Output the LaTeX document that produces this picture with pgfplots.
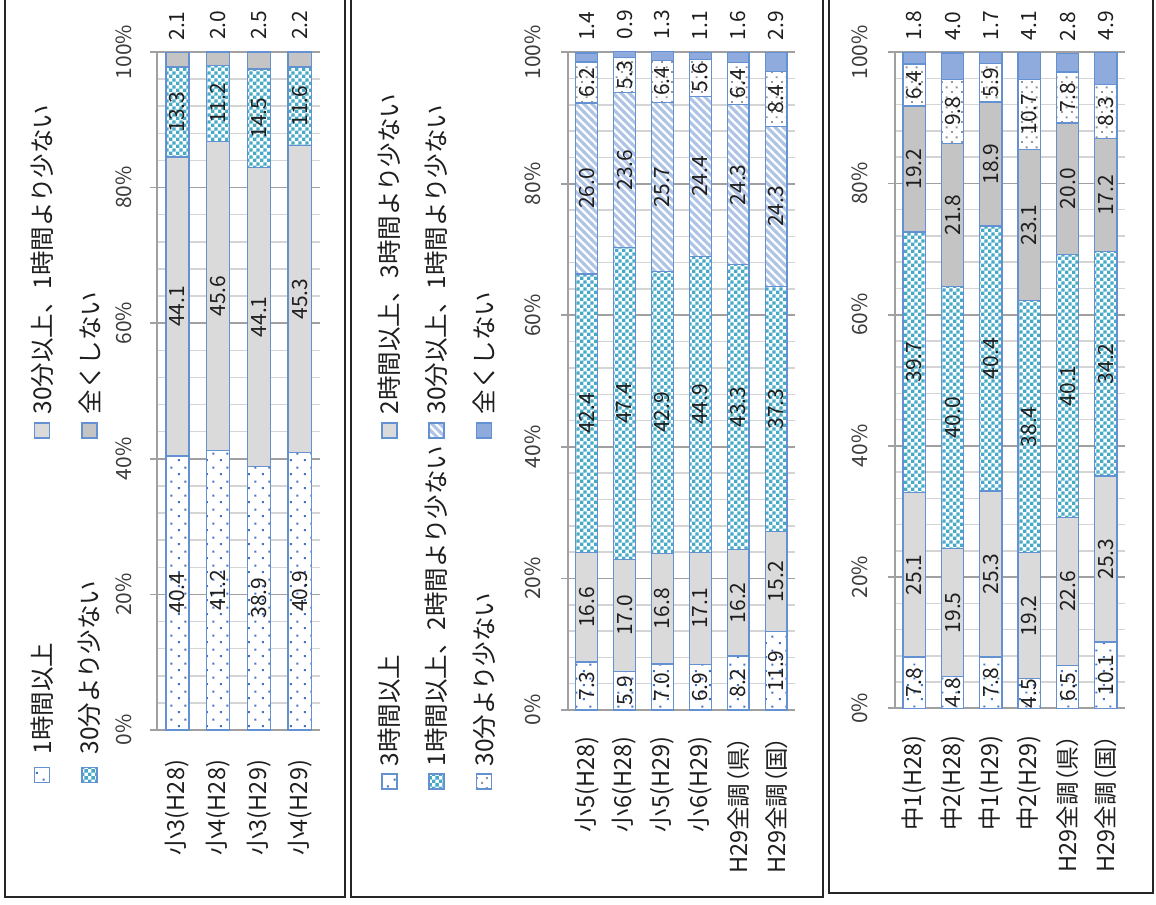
\documentclass[border=0pt]{standalone}
\usepackage{pgfplots}
\pgfplotsset{compat=1.18}
\usepackage{pgfplotstable}
\usetikzlibrary{patterns}
\usepackage{fontspec}
\setmainfont{Noto Sans CJK JP}
\newfontfamily\paltfont{Noto Sans CJK JP}[RawFeature=+palt]

\definecolor{edgec}{RGB}{100,145,210}
\definecolor{lgray}{RGB}{218,218,218}
\definecolor{mgray}{RGB}{196,196,196}
\definecolor{chkc}{RGB}{70,170,198}
\definecolor{dotblue}{RGB}{68,114,196}
\definecolor{hatchc}{RGB}{175,195,230}
\definecolor{solidblue}{RGB}{143,170,220}
\definecolor{dotgray}{RGB}{150,150,150}
\definecolor{txt}{RGB}{30,30,30}
\definecolor{tickc}{RGB}{60,60,60}
\definecolor{majgrid}{RGB}{160,160,160}
\definecolor{mingrid}{RGB}{212,212,212}

\pgfdeclarepatternformonly{bdots}{\pgfqpoint{0pt}{0pt}}{\pgfqpoint{5.4pt}{5.4pt}}{\pgfqpoint{5.4pt}{5.4pt}}{%
  \pgfpathrectangle{\pgfqpoint{0.8pt}{0.8pt}}{\pgfqpoint{0.8pt}{0.8pt}}%
  \pgfpathrectangle{\pgfqpoint{3.5pt}{3.5pt}}{\pgfqpoint{0.8pt}{0.8pt}}%
  \pgfusepath{fill}}
\pgfdeclarepatternformonly{gdots}{\pgfqpoint{0pt}{0pt}}{\pgfqpoint{4pt}{4pt}}{\pgfqpoint{4pt}{4pt}}{%
  \pgfpathrectangle{\pgfqpoint{0.5pt}{0.5pt}}{\pgfqpoint{0.8pt}{0.8pt}}%
  \pgfpathrectangle{\pgfqpoint{2.5pt}{2.5pt}}{\pgfqpoint{0.8pt}{0.8pt}}%
  \pgfusepath{fill}}
\pgfdeclarepatternformonly{chk}{\pgfqpoint{0pt}{0pt}}{\pgfqpoint{2.7pt}{2.7pt}}{\pgfqpoint{2.7pt}{2.7pt}}{%
  \pgfpathrectangle{\pgfqpoint{0pt}{0pt}}{\pgfqpoint{1.35pt}{1.35pt}}%
  \pgfpathrectangle{\pgfqpoint{1.35pt}{1.35pt}}{\pgfqpoint{1.35pt}{1.35pt}}%
  \pgfusepath{fill}}
\pgfdeclarepatternformonly{nwl}{\pgfqpoint{-1pt}{-1pt}}{\pgfqpoint{4.2pt}{4.2pt}}{\pgfqpoint{3.2pt}{3.2pt}}{%
  \pgfsetlinewidth{1.2pt}%
  \pgfpathmoveto{\pgfqpoint{-0.2pt}{3.4pt}}\pgfpathlineto{\pgfqpoint{3.4pt}{-0.2pt}}%
  \pgfusepath{stroke}}

\tikzset{
  sdotb/.style={draw=edgec, line width=0.5pt, preaction={fill=white}, pattern=bdots, pattern color=dotblue},
  slg/.style={draw=edgec, line width=0.5pt, fill=lgray},
  smg/.style={draw=edgec, line width=0.5pt, fill=mgray},
  schk/.style={draw=edgec, line width=0.5pt, preaction={fill=white}, pattern=chk, pattern color=chkc},
  shat/.style={draw=edgec, line width=0.5pt, preaction={fill=white}, pattern=nwl, pattern color=hatchc},
  sdotg/.style={draw=edgec, line width=0.5pt, preaction={fill=white}, pattern=gdots, pattern color=dotgray},
  sblue/.style={draw=edgec, line width=0.5pt, fill=solidblue},
}

\newcommand\tickfont{\fontsize{8.4pt}{10pt}\selectfont}
\newcommand\catfont{\fontsize{9.4pt}{11pt}\selectfont}
\newcommand\labfont{\fontsize{8.4pt}{10pt}\selectfont}
\newcommand\legfont{\fontsize{9.8pt}{11pt}\selectfont}

\pgfplotsset{
  /pgf/number format/assume math mode=true,
  panel/.style={
    scale only axis, ybar stacked, ymin=0, ymax=100, clip=false,
    enlargelimits=false,
    axis x line*=bottom, axis y line*=left,
    axis line style={draw=majgrid, line width=0.7pt},
    ytick={0,20,...,100}, yticklabels={0\%,20\%,40\%,60\%,80\%,100\%},
    minor y tick num=4,
    ymajorgrids, yminorgrids,
    major grid style={draw=majgrid, line width=0.7pt},
    minor grid style={draw=mingrid, line width=0.6pt},
    tick align=outside, major tick length=2.8pt, minor tick length=0pt,
    ytick style={draw=majgrid, line width=0.7pt},
    xtick style={draw=none},
    yticklabel style={rotate=90, anchor=south, inner sep=0pt, font=\tickfont, text=tickc},
    xticklabel style={rotate=90, anchor=east, inner sep=0pt, font=\catfont, text=txt},
  },
  midlab/.style={
    visualization depends on={\thisrow{#1}\as\myval},
    nodes near coords={\pgfmathprintnumber[fixed,fixed zerofill,precision=1]{\myval}},
    every node near coord/.style={rotate=90, anchor=center, inner sep=0pt, font=\labfont, text=txt},
  },
  toplab/.style n args={2}{
    visualization depends on={\thisrow{#1}\as\myval},
    nodes near coords={\pgfmathprintnumber[fixed,fixed zerofill,precision=1]{\myval}},
    every node near coord/.style={yshift={4.6pt+#2*\myval}, rotate=90, anchor=west, inner sep=0pt, font=\labfont, text=txt},
  },
}

\pgfplotstableread{
x a b c d
0 40.4 44.1 13.3 2.1
1 41.2 45.6 11.2 2.0
2 38.9 44.1 14.5 2.5
3 40.9 45.3 11.6 2.2
}\tabA

\pgfplotstableread{
x a b c d e f
0 7.3 16.6 42.4 26.0 6.2 1.4
1 5.9 17.0 47.4 23.6 5.3 0.9
2 7.0 16.8 42.9 25.7 6.4 1.3
3 6.9 17.1 44.9 24.4 5.6 1.1
4 8.2 16.2 43.3 24.3 6.4 1.6
5 11.9 15.2 37.3 24.3 8.4 2.9
}\tabB

\pgfplotstableread{
x a b c d e f
0 7.8 25.1 39.7 19.2 6.4 1.8
1 4.8 19.5 40.0 21.8 9.8 4.0
2 7.8 25.3 40.4 18.9 5.9 1.7
3 4.5 19.2 38.4 23.1 10.7 4.1
4 6.5 22.6 40.1 20.0 7.8 2.8
5 10.1 25.3 34.2 17.2 8.3 4.9
}\tabC

\begin{document}
\begin{tikzpicture}
\path[use as bounding box] (0,0) rectangle (462.4pt,361.6pt);

% panel frames
\draw[line width=0.8pt, draw=black!85] (2pt,2.8pt) rectangle (138pt,366pt);
\draw[line width=0.8pt, draw=black!85] (140.4pt,2.8pt) rectangle (329.2pt,366pt);
\draw[line width=0.8pt, draw=black!85] (331.6pt,4.4pt) rectangle (461.2pt,366pt);

% ---------- panel 1 ----------
\begin{axis}[panel, at={(62.8pt,69.6pt)}, anchor=south west,
  width=65.2pt, height=271.2pt, xmin=-0.5, xmax=3.5, bar width=9.2pt,
  xtick={0,1,2,3}, xticklabels={小3(H28),小4(H28),小3(H29),小4(H29)},
  xticklabel shift=9pt, yticklabel shift=7pt]
\addplot[sdotb, midlab={a}] table[x=x,y=a]{\tabA};
\addplot[slg, midlab={b}] table[x=x,y=b]{\tabA};
\addplot[schk, midlab={c}] table[x=x,y=c]{\tabA};
\addplot[smg, toplab={d}{1.356pt}] table[x=x,y=d]{\tabA};
\end{axis}

% ---------- panel 2 ----------
\begin{axis}[panel, at={(227.1pt,77.6pt)}, anchor=south west,
  width=90.9pt, height=263.1pt, xmin=-0.5, xmax=5.5, bar width=8.7pt,
  xtick={0,...,5}, xticklabels={小5(H28),小6(H28),小5(H29),小6(H29),H29全調{\paltfont （県）},H29全調{\paltfont （国）}},
  xticklabel shift=7.6pt, yticklabel shift=7.6pt]
\addplot[sdotb, midlab={a}] table[x=x,y=a]{\tabB};
\addplot[slg, midlab={b}] table[x=x,y=b]{\tabB};
\addplot[schk, midlab={c}] table[x=x,y=c]{\tabB};
\addplot[shat, midlab={d}] table[x=x,y=d]{\tabB};
\addplot[sdotg, midlab={e}] table[x=x,y=e]{\tabB};
\addplot[sblue, toplab={f}{1.3155pt}] table[x=x,y=f]{\tabB};
\end{axis}

% ---------- panel 3 ----------
\begin{axis}[panel, at={(358pt,78.3pt)}, anchor=south west,
  width=92pt, height=262.4pt, xmin=-0.5, xmax=5.5, bar width=8.9pt,
  xtick={0,...,5}, xticklabels={中1(H28),中2(H28),中1(H29),中2(H29),H29全調{\paltfont （県）},H29全調{\paltfont （国）}},
  xticklabel shift=7.8pt, yticklabel shift=8pt]
\addplot[sdotb, midlab={a}] table[x=x,y=a]{\tabC};
\addplot[slg, midlab={b}] table[x=x,y=b]{\tabC};
\addplot[schk, midlab={c}] table[x=x,y=c]{\tabC};
\addplot[smg, midlab={d}] table[x=x,y=d]{\tabC};
\addplot[sdotg, midlab={e}] table[x=x,y=e]{\tabC};
\addplot[sblue, toplab={f}{1.312pt}] table[x=x,y=f]{\tabC};
\end{axis}

% ---------- legend panel 1 ----------
\draw[sdotb] (13.8pt,48.6pt) rectangle ++(6pt,6pt);
\node[rotate=90, anchor=west, inner sep=0pt, font=\legfont, text=txt] at (16.8pt,59.6pt) {1時間以上};
\draw[schk] (32.8pt,48.6pt) rectangle ++(6pt,6pt);
\node[rotate=90, anchor=west, inner sep=0pt, font=\legfont, text=txt] at (35.8pt,59.6pt) {30分より少ない};
\draw[slg] (13.8pt,186.4pt) rectangle ++(6pt,6pt);
\node[rotate=90, anchor=west, inner sep=0pt, font=\legfont, text=txt] at (16.8pt,195.6pt) {30分以上、1時間より少ない};
\draw[smg] (32.8pt,186.4pt) rectangle ++(6pt,6pt);
\node[rotate=90, anchor=west, inner sep=0pt, font=\legfont, text=txt] at (35.8pt,195.6pt) {全くしない};

% ---------- legend panel 2 ----------
\draw[sdotb] (152.8pt,46pt) rectangle ++(6pt,6pt);
\node[rotate=90, anchor=west, inner sep=0pt, font=\legfont, text=txt] at (155.8pt,54.8pt) {3時間以上};
\draw[schk] (171.6pt,46pt) rectangle ++(6pt,6pt);
\node[rotate=90, anchor=west, inner sep=0pt, font=\legfont, text=txt] at (174.6pt,54.8pt) {1時間以上、2時間より少ない};
\draw[sdotg] (190.6pt,46pt) rectangle ++(6pt,6pt);
\node[rotate=90, anchor=west, inner sep=0pt, font=\legfont, text=txt] at (193.6pt,54.8pt) {30分より少ない};
\draw[slg] (152.8pt,186.4pt) rectangle ++(6pt,6pt);
\node[rotate=90, anchor=west, inner sep=0pt, font=\legfont, text=txt] at (155.8pt,195.6pt) {2時間以上、3時間より少ない};
\draw[shat] (171.6pt,186.4pt) rectangle ++(6pt,6pt);
\node[rotate=90, anchor=west, inner sep=0pt, font=\legfont, text=txt] at (174.6pt,195.6pt) {30分以上、1時間より少ない};
\draw[sblue] (190.6pt,186.4pt) rectangle ++(6pt,6pt);
\node[rotate=90, anchor=west, inner sep=0pt, font=\legfont, text=txt] at (193.6pt,195.6pt) {全くしない};
\end{tikzpicture}
\end{document}
